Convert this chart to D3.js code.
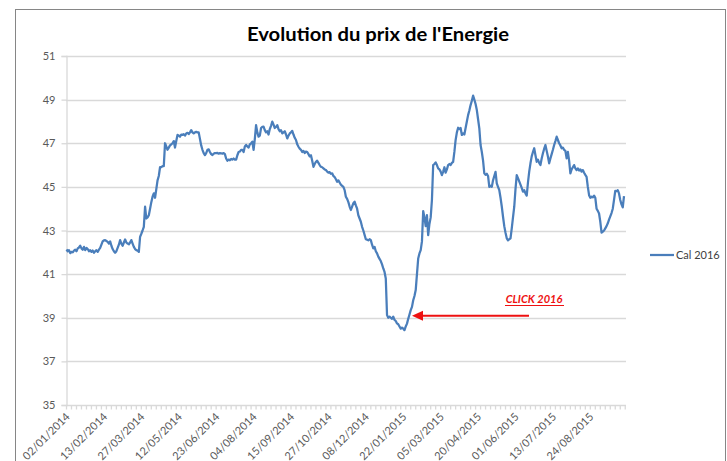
<!DOCTYPE html>
<html>
<head>
<meta charset="utf-8">
<script src="https://cdn.jsdelivr.net/npm/d3@7"></script>
<style>
  body { margin: 0; background: #fff; }
  text { font-family: Lato, "Open Sans", sans-serif; }
</style>
</head>
<body>
<div id="mycanvas"></div>
<script>
const width = 727;
const height = 461;

// data, one value per trading day (rows of 30 days)
const cal2016 = [
  42.13, 42.05, 42.10, 41.96, 42.02, 42.00, 42.08, 42.12, 42.05, 42.18, 42.22, 42.30, 42.18, 42.12, 42.25, 42.10, 42.20, 42.15, 42.05, 42.10, 42.02, 42.08, 41.98, 42.05, 42.10, 42.02, 42.12, 42.20, 42.35, 42.50,
  42.55, 42.56, 42.52, 42.48, 42.40, 42.50, 42.30, 42.15, 42.05, 41.98, 42.05, 42.20, 42.35, 42.56, 42.40, 42.30, 42.45, 42.59, 42.45, 42.40, 42.37, 42.45, 42.56, 42.40, 42.25, 42.15, 42.10, 42.08, 42.02, 42.71,
  42.85, 43.00, 43.17, 44.09, 43.55, 43.60, 43.70, 44.00, 44.30, 44.55, 44.70, 44.50, 44.90, 45.30, 45.50, 45.90, 45.90, 45.95, 45.95, 47.00, 46.85, 46.70, 46.80, 46.90, 46.95, 47.00, 47.10, 46.80, 47.10, 47.38,
  47.35, 47.30, 47.40, 47.38, 47.42, 47.35, 47.45, 47.48, 47.42, 47.50, 47.60, 47.50, 47.45, 47.50, 47.52, 47.50, 47.50, 47.20, 46.90, 46.70, 46.55, 46.46, 46.55, 46.70, 46.72, 46.60, 46.50, 46.46, 46.52, 46.55,
  46.55, 46.56, 46.52, 46.55, 46.54, 46.52, 46.55, 46.50, 46.30, 46.20, 46.25, 46.22, 46.28, 46.25, 46.30, 46.25, 46.25, 46.45, 46.60, 46.62, 46.70, 46.70, 46.60, 46.85, 46.92, 46.85, 46.80, 46.95, 47.00, 47.07,
  46.70, 47.20, 47.83, 47.50, 47.30, 47.35, 47.70, 47.75, 47.76, 47.60, 47.50, 47.55, 47.40, 47.65, 47.80, 47.99, 47.85, 47.70, 47.75, 47.83, 47.65, 47.55, 47.60, 47.45, 47.50, 47.55, 47.40, 47.22, 47.35, 47.45,
  47.50, 47.57, 47.40, 47.25, 47.15, 46.95, 46.84, 46.75, 46.70, 46.60, 46.65, 46.55, 46.62, 46.60, 46.50, 46.40, 46.45, 46.20, 45.92, 46.05, 46.15, 46.20, 46.10, 46.00, 45.92, 45.90, 45.85, 45.80, 45.77, 45.70,
  45.65, 45.68, 45.60, 45.62, 45.50, 45.45, 45.35, 45.23, 45.30, 45.20, 45.10, 45.05, 45.00, 44.85, 44.55, 44.45, 44.30, 44.10, 43.94, 44.10, 44.25, 44.32, 44.15, 44.00, 43.70, 43.55, 43.40, 43.17, 43.00, 42.80,
  42.60, 42.58, 42.55, 42.60, 42.56, 42.35, 42.18, 42.25, 42.05, 41.95, 41.80, 41.70, 41.60, 41.45, 41.26, 41.10, 40.80, 39.12, 39.00, 39.05, 39.00, 38.95, 39.05, 38.90, 38.85, 38.74, 38.70, 38.60, 38.50, 38.55,
  38.50, 38.43, 38.60, 38.73, 38.95, 39.15, 39.35, 39.50, 39.80, 40.00, 40.27, 41.00, 41.72, 41.95, 42.10, 42.50, 43.89, 43.60, 43.20, 43.70, 42.79, 43.30, 43.60, 44.40, 46.00, 46.05, 46.12, 46.00, 45.85, 45.80,
  45.70, 45.54, 45.70, 45.90, 45.65, 45.80, 46.00, 46.05, 46.00, 46.10, 46.15, 46.60, 47.15, 47.50, 47.71, 47.65, 47.70, 47.38, 47.45, 47.40, 47.70, 48.00, 48.29, 48.50, 48.75, 48.95, 49.18, 49.00, 48.80, 48.52,
  48.10, 47.68, 46.92, 46.60, 46.20, 45.62, 45.55, 45.60, 45.50, 45.00, 45.05, 45.00, 45.30, 45.50, 45.69, 45.16, 45.00, 44.85, 44.50, 44.10, 43.63, 43.20, 42.90, 42.64, 42.55, 42.60, 42.64, 43.10, 43.60, 44.09,
  44.90, 45.54, 45.40, 45.25, 45.10, 44.95, 44.78, 44.85, 44.70, 44.60, 45.20, 45.70, 46.08, 46.40, 46.60, 46.77, 46.45, 46.15, 46.25, 46.10, 46.00, 46.30, 46.54, 46.75, 46.92, 46.65, 46.39, 46.08, 46.30, 46.50,
  46.70, 46.92, 47.10, 47.30, 47.15, 47.00, 46.90, 46.77, 46.80, 46.70, 46.65, 46.31, 46.60, 46.20, 45.62, 45.80, 45.90, 46.00, 45.85, 45.77, 45.85, 45.75, 45.80, 45.70, 45.77, 45.65, 45.55, 45.46, 45.00, 44.62,
  44.50, 44.55, 44.52, 44.60, 44.50, 44.00, 43.90, 43.78, 43.40, 42.90, 42.95, 43.00, 43.10, 43.20, 43.33, 43.50, 43.65, 43.80, 44.00, 44.40, 44.82, 44.80, 44.85, 44.70, 44.40, 44.20, 44.06, 44.58
];

// one label every 30 trading days
const dateLabels = [
  "02/01/2014", "13/02/2014", "27/03/2014", "12/05/2014", "23/06/2014",
  "04/08/2014", "15/09/2014", "27/10/2014", "08/12/2014", "22/01/2015",
  "05/03/2015", "20/04/2015", "01/06/2015", "13/07/2015", "24/08/2015"
];
const labelStep = 30;
const yTicks = [35, 37, 39, 41, 43, 45, 47, 49, 51];
const seriesName = "Cal 2016";
const clickIndex = 277;
const clickValue = 39;

const plot = { left: 66, right: 626, top: 56, bottom: 405 };

const svg = d3
  .select("#mycanvas")
  .append("svg")
  .attr("width", width)
  .attr("height", height);

// chart area frame
svg
  .append("rect")
  .attr("x", 15.5)
  .attr("y", 9.5)
  .attr("width", 710)
  .attr("height", 470)
  .attr("fill", "#fff")
  .attr("stroke", "#868686")
  .attr("stroke-width", 1);

const x = d3
  .scaleLinear()
  .domain([0, cal2016.length - 1])
  .range([plot.left + 0.5, 624]);

const y = d3
  .scaleLinear()
  .domain([35, 51])
  .range([plot.bottom, plot.top]);

// title
svg
  .append("text")
  .attr("x", 378)
  .attr("y", 41)
  .attr("text-anchor", "middle")
  .attr("font-size", 19)
  .attr("font-weight", "bold")
  .attr("fill", "#000")
  .attr("textLength", 262)
  .attr("lengthAdjust", "spacingAndGlyphs")
  .text("Evolution du prix de l'Energie");

// gridlines
svg
  .append("g")
  .selectAll("line")
  .data(yTicks.filter((d) => d !== 35))
  .join("line")
  .attr("x1", plot.left)
  .attr("x2", plot.right)
  .attr("y1", (d) => Math.round(y(d)) + 0.5)
  .attr("y2", (d) => Math.round(y(d)) + 0.5)
  .attr("stroke", "#d9d9d9")
  .attr("stroke-width", 1.3);

// y axis
const yAxis = svg
  .append("g")
  .attr("transform", `translate(${plot.left + 0.5} 0)`)
  .call(d3.axisLeft(y).tickValues(yTicks).tickSize(5).tickPadding(6));
yAxis.select(".domain").attr("stroke", "#d9d9d9").attr("stroke-width", 1.3);
yAxis.selectAll(".tick line").attr("stroke", "#d9d9d9").attr("stroke-width", 1.3);
yAxis
  .selectAll(".tick text")
  .attr("fill", "#595959")
  .attr("font-size", 11)
  .attr("font-family", "Lato, sans-serif");

// x axis with small ticks
const xg = svg
  .append("g")
  .attr("transform", `translate(0 ${Math.round(plot.bottom) + 0.5})`);
xg.append("line")
  .attr("x1", plot.left)
  .attr("x2", plot.right)
  .attr("stroke", "#d9d9d9")
  .attr("stroke-width", 1.3);
xg.selectAll("line.tk")
  .data(d3.range(0, cal2016.length + 1, 4))
  .join("line")
  .attr("class", "tk")
  .attr("x1", (d) => x(d))
  .attr("x2", (d) => x(d))
  .attr("y1", 0)
  .attr("y2", 4)
  .attr("stroke", "#d9d9d9")
  .attr("stroke-width", 1.3);

xg.selectAll("text")
  .data(dateLabels)
  .join("text")
  .attr("transform", (d, i) => `translate(${x(i * labelStep) + 4} 12) rotate(-45)`)
  .attr("text-anchor", "end")
  .attr("font-size", 11)
  .attr("fill", "#595959")
  .text((d) => d);

// series line
svg
  .append("path")
  .datum(cal2016)
  .attr("fill", "none")
  .attr("stroke", "#4a7ebb")
  .attr("stroke-width", 2.25)
  .attr("stroke-linejoin", "round")
  .attr("d", d3.line().x((d, i) => x(i)).y((d) => y(d)));

// legend
svg
  .append("line")
  .attr("x1", 650)
  .attr("x2", 674)
  .attr("y1", 255)
  .attr("y2", 255)
  .attr("stroke", "#4a7ebb")
  .attr("stroke-width", 2.25);
svg
  .append("text")
  .attr("x", 676)
  .attr("y", 259)
  .attr("font-size", 11)
  .attr("fill", "#404040")
  .text(seriesName);

// red arrow annotation
const arrowY = y(clickValue) - 2;
const arrowTip = x(clickIndex);
svg
  .append("line")
  .attr("x1", 529)
  .attr("x2", arrowTip + 8)
  .attr("y1", arrowY)
  .attr("y2", arrowY)
  .attr("stroke", "#ee1111")
  .attr("stroke-width", 2.2);
svg
  .append("path")
  .attr("d", `M${arrowTip},${arrowY} L${arrowTip + 11},${arrowY - 5} L${arrowTip + 11},${arrowY + 5} Z`)
  .attr("fill", "#ee1111");

svg
  .append("text")
  .attr("x", 534)
  .attr("y", 303)
  .attr("text-anchor", "middle")
  .attr("font-size", 11)
  .attr("font-weight", "bold")
  .attr("font-style", "italic")
  .attr("fill", "#ee1111")
  .text("CLICK 2016");
svg
  .append("line")
  .attr("x1", 505)
  .attr("x2", 564)
  .attr("y1", 305.5)
  .attr("y2", 305.5)
  .attr("stroke", "#ee1111")
  .attr("stroke-width", 1);
</script>
</body>
</html>
